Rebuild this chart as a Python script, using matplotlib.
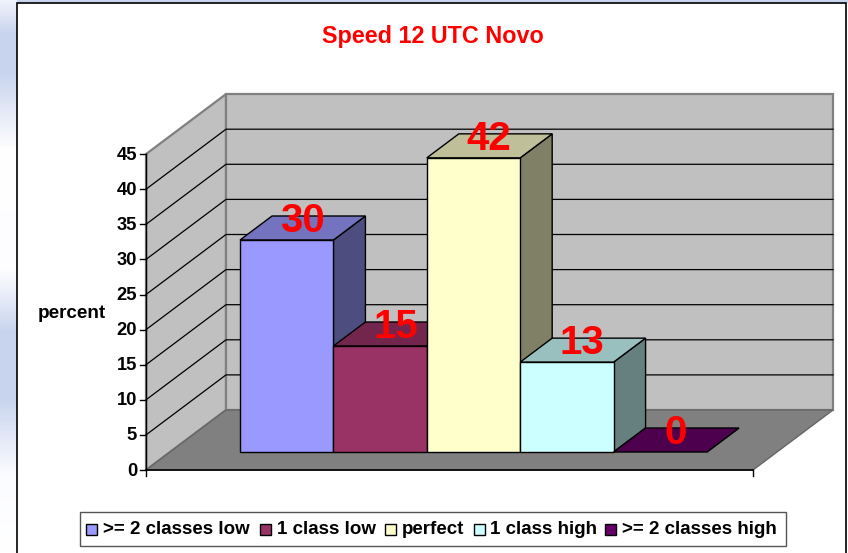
import matplotlib
matplotlib.use("Agg")
import matplotlib.pyplot as plt
from matplotlib.colors import LinearSegmentedColormap
from matplotlib.patches import Polygon, Rectangle
import numpy as np

plt.rcParams['font.family'] = ['Liberation Sans', 'DejaVu Sans']
plt.rcParams['font.weight'] = 'bold'

title = "Speed 12 UTC Novo"
ylabel = "percent"
series = [">= 2 classes low", "1 class low", "perfect", "1 class high", ">= 2 classes high"]
values = [30.2, 15.1, 41.9, 12.8, 0.0]
front_colors = ["#9999FF", "#993366", "#FFFFCC", "#CCFFFF", "#660066"]
top_colors = ["#7373BF", "#73264D", "#BFBF99", "#99BFBF", "#4D004D"]
side_colors = ["#4D4D80", "#4D1A33", "#808066", "#668080", "#330033"]
yticks = [0, 5, 10, 15, 20, 25, 30, 35, 40, 45]

W, H = 848, 553
# pixel sizes of one x unit (a bar width) and one percent
x_px = 607 / 6.5
y_px = 7.02
depth_x = 80 / x_px
depth_y = 60 / y_px

fig = plt.figure(figsize=(W / 100, H / 100), dpi=100)
ax = fig.add_axes([0, 0, 1, 1])
ax.axis('off')


def px_x(p):
    return (p - 146) / x_px


def px_y(p):
    return (470 - p) / y_px


def pt(x, y, d=0.0):
    return (x + d * depth_x, y + d * depth_y)


def poly(points, face, edge='black', lw=1.0, z=2):
    ax.add_patch(Polygon(points, closed=True, facecolor=face, edgecolor=edge,
                         linewidth=lw, zorder=z, joinstyle='miter'))


x_end = 6.5
y_top = yticks[-1]

# walls and floor
poly([pt(0, 0), pt(0, y_top), pt(0, y_top, 1), pt(0, 0, 1)], '#C0C0C0', '#808080', 1.6)
poly([pt(0, 0, 1), pt(0, y_top, 1), pt(x_end, y_top, 1), pt(x_end, 0, 1)], '#C0C0C0', '#808080', 1.6)
poly([pt(0, 0), pt(x_end, 0), pt(x_end, 0, 1), pt(0, 0, 1)], '#808080', '#666666', 1.0)

# grid lines
for t in yticks[1:-1]:
    xs, ys = zip(pt(0, t), pt(0, t, 1), pt(x_end, t, 1))
    ax.plot(xs, ys, color='black', lw=0.9, zorder=3)

# axes lines, ticks
tick_w = 6 / x_px
tick_h = 6 / y_px
ax.plot([0, 0], [-tick_h, y_top], color='black', lw=1.0, zorder=4)
ax.plot([0, x_end], [0, 0], color='black', lw=1.2, zorder=4)
ax.plot([x_end, x_end], [-tick_h, 0], color='black', lw=1.0, zorder=4)
for t in yticks:
    ax.plot([-tick_w, 0], [t, t], color='black', lw=1.0, zorder=4)
    ax.text(-9 / x_px, t - 1 / y_px, str(t), ha='right', va='center', fontsize=13.2,
            color='black', zorder=6)

ax.text(px_x(38), px_y(314), ylabel, ha='left', va='center', fontsize=13.6, zorder=6)

# bars, left to right so later ones sit over the side of the earlier ones
for i, v in enumerate(values):
    x0 = 0.75 + i
    x1 = x0 + 1
    poly([pt(x1, 0, .3), pt(x1, v, .3), pt(x1, v, .7), pt(x1, 0, .7)], side_colors[i], z=5)
    poly([pt(x0, v, .3), pt(x1, v, .3), pt(x1, v, .7), pt(x0, v, .7)], top_colors[i], z=5)
    if v > 0:
        ax.add_patch(Rectangle(pt(x0, 0, .3), 1, v, facecolor=front_colors[i],
                               edgecolor='black', linewidth=1.0, zorder=5))
    cx, cy = pt(x0 + .5, v, .5)
    ax.annotate("%.0f" % v, (cx, cy), xytext=(-0.5, 5), textcoords='offset points',
                ha='center', va='center', color='#FF0000', fontsize=29, zorder=7)

ax.text(px_x(433), px_y(37), title, ha='center', va='center',
        color='#FF0000', fontsize=16.8, zorder=7)

# legend box, entries placed one by one like the original
ax.add_patch(Rectangle((px_x(79.5), px_y(546)), 706 / x_px, 34 / y_px,
                       facecolor='white', edgecolor='#555555', linewidth=1.0, zorder=6))
square_px = [86, 260, 385, 474, 605]
text_px = [103, 277, 402, 490, 622]
for name, color, s, e in zip(series, front_colors, square_px, text_px):
    ax.add_patch(Rectangle((px_x(s), px_y(534.5)), 11 / x_px, 11 / y_px,
                           facecolor=color, edgecolor='black', linewidth=1.0, zorder=7))
    ax.text(px_x(e), px_y(533.5), name, ha='left', va='baseline', fontsize=13.5, zorder=7)

# slide background strip and chart frame
strip = LinearSegmentedColormap.from_list("strip", [
    (0.0, '#F0F3FB'), (0.06, '#C8D4EE'), (0.13, '#C8D4EE'), (0.27, '#FFFFFF'),
    (0.49, '#FDFDFF'), (0.60, '#C8D4EE'), (0.72, '#C8D4EE'), (0.86, '#FBFCFF'), (1.0, '#FFFFFF')])
ax.imshow(np.linspace(0, 1, 256)[:, None], cmap=strip, aspect='auto', zorder=1,
          extent=(px_x(0), px_x(17), px_y(H), px_y(0)))
ax.add_patch(Rectangle((px_x(17), px_y(3)), (W - 17) / x_px, 3 / y_px,
                       facecolor='#C8D4EE', edgecolor='none', zorder=1))
ax.add_patch(Rectangle((px_x(17), px_y(H + 5)), (846 - 17) / x_px, (H + 5 - 3) / y_px,
                       facecolor='none', edgecolor='black', linewidth=1.2, zorder=8))
ax.set_xlim(px_x(0), px_x(W))
ax.set_ylim(px_y(H), px_y(0))

fig.savefig("out.png", dpi=100)
